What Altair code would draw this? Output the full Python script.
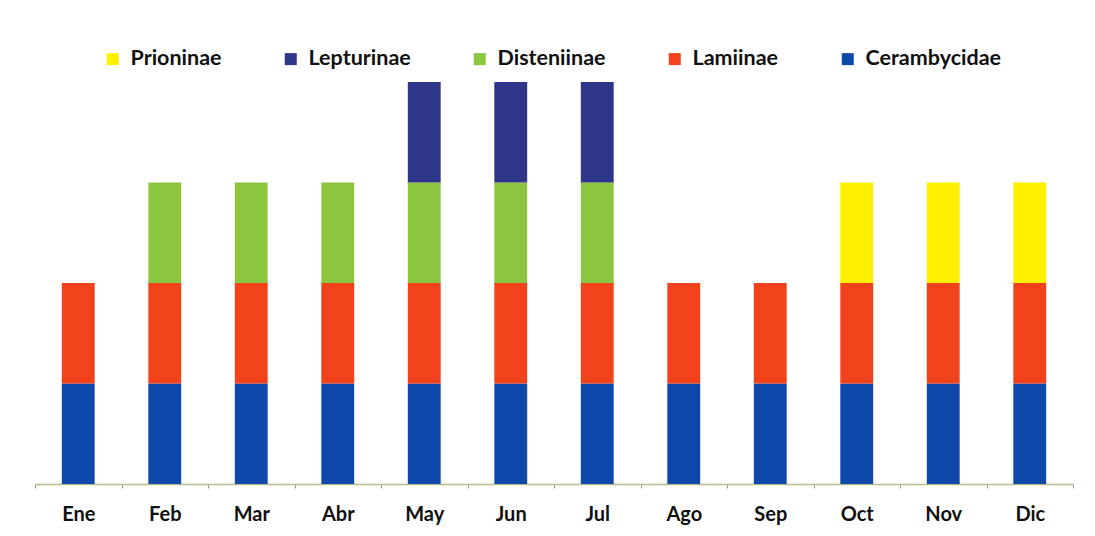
import altair as alt
import pandas as pd

months = ["Ene", "Feb", "Mar", "Abr", "May", "Jun", "Jul", "Ago", "Sep", "Oct", "Nov", "Dic"]
cerambycidae = [1, 1, 1, 1, 1, 1, 1, 1, 1, 1, 1, 1]
lamiinae     = [1, 1, 1, 1, 1, 1, 1, 1, 1, 1, 1, 1]
disteniinae  = [0, 1, 1, 1, 1, 1, 1, 0, 0, 0, 0, 0]
lepturinae   = [0, 0, 0, 0, 1, 1, 1, 0, 0, 0, 0, 0]
prioninae    = [0, 0, 0, 0, 0, 0, 0, 0, 0, 1, 1, 1]

series_names = ["Cerambycidae", "Lamiinae", "Disteniinae", "Lepturinae", "Prioninae"]
series_vals = [cerambycidae, lamiinae, disteniinae, lepturinae, prioninae]
legend_order = ["Prioninae", "Lepturinae", "Disteniinae", "Lamiinae", "Cerambycidae"]
colors = {"Prioninae": "#FFF000", "Lepturinae": "#2F3589", "Disteniinae": "#8CC63E",
          "Lamiinae": "#F2421B", "Cerambycidae": "#0E48AA"}

rows = []
for si, (name, vals) in enumerate(zip(series_names, series_vals)):
    for m, v in zip(months, vals):
        rows.append({"Mes": m, "Subfamilia": name, "Valor": v, "orden": si})
df = pd.DataFrame(rows)

chart = alt.Chart(df).mark_bar(width=alt.RelativeBandSize(0.38)).encode(
    x=alt.X("Mes:N", sort=months,
            scale=alt.Scale(paddingInner=0, paddingOuter=0),
            axis=alt.Axis(title=None, labelAngle=0, labelFont="Lato", labelFontWeight="bold",
                          labelFontSize=20, labelColor="#111111", labelPadding=16,
                          domainColor="#B8BC88", tickColor="#999999", tickSize=4,
                          tickBand="extent", domainWidth=1.5)),
    y=alt.Y("Valor:Q", stack="zero", scale=alt.Scale(domain=[0, 4], nice=False),
            axis=None),
    color=alt.Color("Subfamilia:N",
                    scale=alt.Scale(domain=legend_order, range=[colors[k] for k in legend_order]),
                    legend=alt.Legend(title=None, orient="none", direction="horizontal",
                                      columns=5, legendX=67, legendY=-34,
                                      symbolType="square", symbolSize=144,
                                      symbolStrokeWidth=0,
                                      labelFont="Lato", labelFontWeight="bold",
                                      labelFontSize=21.5, labelColor="#111111",
                                      columnPadding=58, labelOffset=7)),
    order=alt.Order("orden:Q", sort="ascending"),
).properties(
    width=1038, height=402,
    padding={"left": 27, "top": 74, "right": 10, "bottom": 50},
    autosize=alt.AutoSizeParams(type="none"),
).configure_view(stroke=None)

chart.save("out.html", embed_options={"renderer": "svg", "actions": False})
